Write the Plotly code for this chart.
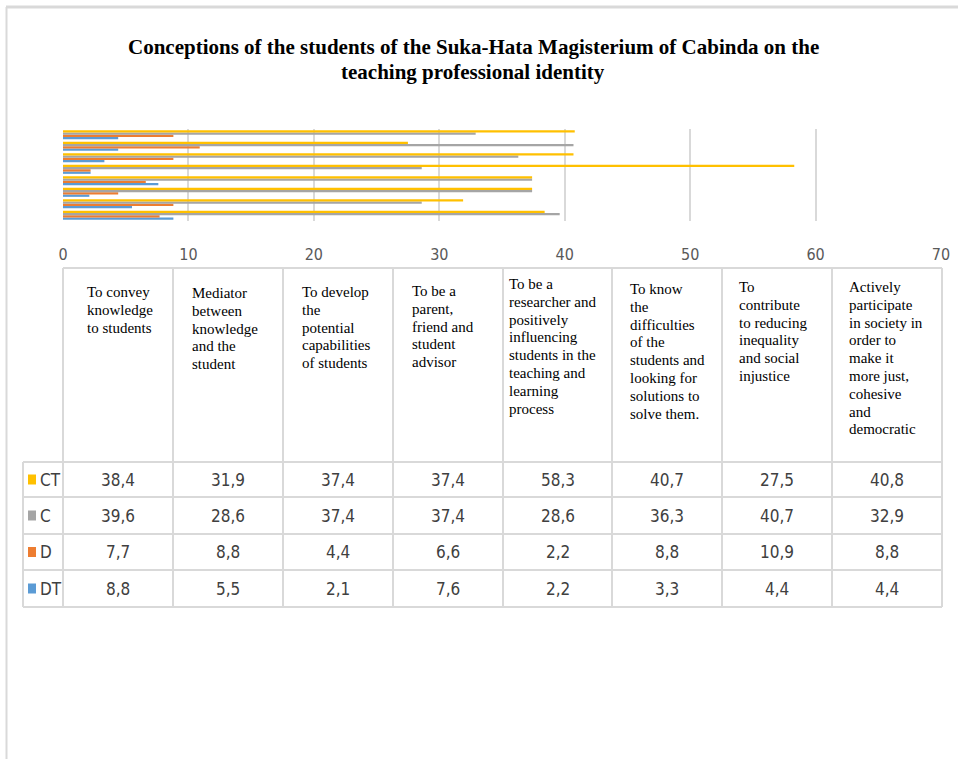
import plotly.graph_objects as go

# ---- data -----------------------------------------------------------------
CATEGORIES = [
    "To convey\nknowledge\nto students",
    "Mediator\nbetween\nknowledge\nand the\nstudent",
    "To develop\nthe\npotential\ncapabilities\nof students",
    "To be a\nparent,\nfriend and\nstudent\nadvisor",
    "To be a\nresearcher and\npositively\ninfluencing\nstudents in the\nteaching and\nlearning\nprocess",
    "To know\nthe\ndifficulties\nof the\nstudents and\nlooking for\nsolutions to\nsolve them.",
    "To\ncontribute\nto reducing\ninequality\nand social\ninjustice",
    "Actively\nparticipate\nin society in\norder to\nmake it\nmore just,\ncohesive\nand\ndemocratic",
]
SERIES_NAMES = ["CT", "C", "D", "DT"]
CT = [38.4, 31.9, 37.4, 37.4, 58.3, 40.7, 27.5, 40.8]
C = [39.6, 28.6, 37.4, 37.4, 28.6, 36.3, 40.7, 32.9]
D = [7.7, 8.8, 4.4, 6.6, 2.2, 8.8, 10.9, 8.8]
DT = [8.8, 5.5, 2.1, 7.6, 2.2, 3.3, 4.4, 4.4]
X_TICKS = [0, 10, 20, 30, 40, 50, 60, 70]
TITLE_LINES = [
    "Conceptions of the students of the Suka-Hata Magisterium of Cabinda on the",
    "teaching professional identity",
]

# ---- styling ----------------------------------------------------------------
W, H = 958, 759
COLORS = {"CT": "#FFC000", "C": "#A5A5A5", "D": "#ED7D31", "DT": "#5B9BD5"}
GRID = "#d9d9d9"
NARROW = "DejaVu Sans Condensed, Liberation Sans Narrow, sans-serif"
SERIF = "Liberation Serif, Times New Roman, serif"

values = {"CT": CT, "C": C, "D": D, "DT": DT}
cat_keys = [c.replace("\n", " ") for c in CATEGORIES]


def px(x):
    return x / W


def py(y):
    return 1 - y / H


# table geometry (pixels from the top-left corner)
col_edges = [63, 173, 283, 393, 503, 612, 722, 832, 942]
legend_left = 23
head_top = 268
row_edges = [462, 497, 534, 570, 607]

fig = go.Figure()

# bars: drawn bottom-to-top inside each group, so DT first and CT last
for name in reversed(SERIES_NAMES):
    fig.add_trace(go.Bar(
        y=cat_keys, x=values[name], name=name, orientation="h",
        marker=dict(color=COLORS[name], line=dict(width=0)),
        showlegend=False, hoverinfo="x+name",
    ))

shapes = []
annotations = []


def hline(y, x0, x1, color=GRID, width=2):
    shapes.append(dict(type="line", xref="paper", yref="paper",
                       x0=px(x0), x1=px(x1), y0=py(y), y1=py(y),
                       line=dict(color=color, width=width)))


def vline(x, y0, y1, color=GRID, width=2):
    shapes.append(dict(type="line", xref="paper", yref="paper",
                       x0=px(x), x1=px(x), y0=py(y0), y1=py(y1),
                       line=dict(color=color, width=width)))


# outer frame of the chart area
hline(7, 6, W, width=3)
vline(6.5, 7, H, width=2)

# header table with category descriptions
hline(head_top, col_edges[0], col_edges[-1])
for x in col_edges:
    vline(x, head_top, row_edges[0])

# data table with legend keys
for y in row_edges:
    hline(y, legend_left, col_edges[-1])
for x in [legend_left] + col_edges:
    vline(x, row_edges[0], row_edges[-1])

# category texts, one annotation per line
text_left = [85, 190, 300, 410, 507, 628, 737, 847]
first_line = [292, 293, 292, 291, 284, 289, 287, 287]
line_step = 17.8
for i, cat in enumerate(CATEGORIES):
    for j, line in enumerate(cat.split("\n")):
        annotations.append(dict(
            xref="paper", yref="paper", x=px(text_left[i]),
            y=py(first_line[i] + j * line_step),
            text=line, showarrow=False, xanchor="left", yanchor="middle",
            font=dict(family=SERIF, size=15, color="#000000"),
        ))

# data rows
for r, name in enumerate(SERIES_NAMES):
    yc = (row_edges[r] + row_edges[r + 1]) / 2
    shapes.append(dict(type="rect", xref="paper", yref="paper",
                       x0=px(28), x1=px(36), y0=py(yc - 5), y1=py(yc + 5),
                       fillcolor=COLORS[name], line=dict(width=0)))
    annotations.append(dict(
        xref="paper", yref="paper", x=px(38), y=py(yc),
        text=name, showarrow=False, xanchor="left", yanchor="middle",
        font=dict(family=NARROW, size=17, color="#404040"),
    ))
    for c, v in enumerate(values[name]):
        xc = (col_edges[c] + col_edges[c + 1]) / 2
        annotations.append(dict(
            xref="paper", yref="paper", x=px(xc), y=py(yc),
            text=f"{v:.1f}".replace(".", ","), showarrow=False,
            xanchor="center", yanchor="middle",
            font=dict(family=NARROW, size=17, color="#404040"),
        ))

# title, two centred lines
for k, line in enumerate(TITLE_LINES):
    annotations.append(dict(
        xref="paper", yref="paper", x=px(473), y=py(47 + 25 * k),
        text=f"<b>{line}</b>", showarrow=False, xanchor="center", yanchor="middle",
        font=dict(family=SERIF, size=21, color="#000000"),
    ))

plot_top, plot_bottom = 129, 221
fig.update_layout(
    width=W, height=H,
    margin=dict(l=0, r=0, t=0, b=0, pad=0, autoexpand=False),
    paper_bgcolor="white", plot_bgcolor="white",
    barmode="group", bargap=0.2, bargroupgap=0,
    xaxis=dict(
        domain=[px(63), px(941)], range=[0, 70],
        tickvals=X_TICKS, showgrid=True, gridcolor=GRID, gridwidth=1.5,
        zeroline=False, showline=False, ticks="", automargin=False,
        ticklabelstandoff=22,
        tickfont=dict(family=NARROW, size=16, color="#595959"),
        fixedrange=True,
    ),
    yaxis=dict(
        domain=[py(plot_bottom), py(plot_top)],
        type="category", categoryorder="array", categoryarray=cat_keys,
        showticklabels=False, showgrid=False, zeroline=False, showline=False,
        automargin=False, fixedrange=True,
    ),
    shapes=shapes,
    annotations=annotations,
)

fig.write_html("out.html")
